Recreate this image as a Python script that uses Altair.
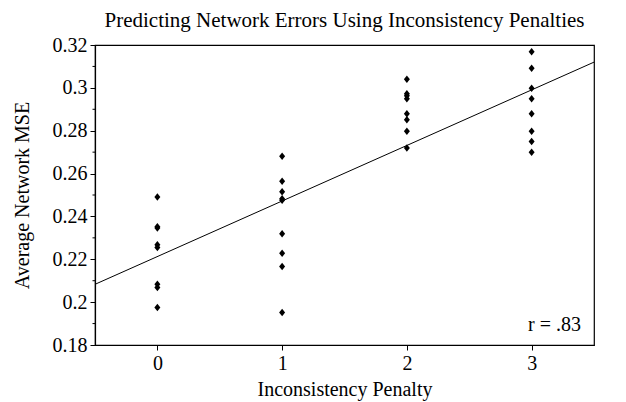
import altair as alt
import pandas as pd

penalty_levels = [0, 1, 2, 3]
mse_p0 = [0.2491, 0.2352, 0.2346, 0.2268, 0.2255, 0.2084, 0.2068, 0.1975]
mse_p1 = [0.2681, 0.2564, 0.2515, 0.2482, 0.2476, 0.2319, 0.2228, 0.2166, 0.1952]
mse_p2 = [0.3040, 0.2972, 0.2963, 0.2949, 0.2879, 0.2851, 0.2797, 0.2719]
mse_p3 = [0.3169, 0.3091, 0.2998, 0.2949, 0.2879, 0.2797, 0.2750, 0.2699]
y_major = [0.18, 0.20, 0.22, 0.24, 0.26, 0.28, 0.30, 0.32]
y_minor = [0.19, 0.21, 0.23, 0.25, 0.27, 0.29, 0.31]
r_label = "r = .83"

rows = []
for lvl, vals in zip(penalty_levels, [mse_p0, mse_p1, mse_p2, mse_p3]):
    for v in vals:
        rows.append({"penalty": lvl, "mse": v})
df = pd.DataFrame(rows)
minor_df = pd.DataFrame({"v": y_minor})

FONT = "Liberation Serif"
xscale = alt.Scale(domain=[-0.5, 3.5], nice=False, zero=False)
yscale = alt.Scale(domain=[0.18, 0.32], nice=False, zero=False)

base = alt.Chart(df)

points = base.mark_point(
    shape="M-0.8,0L0,-1L0.8,0L0,1Z", filled=True, color="black", opacity=1, size=56
).encode(
    x=alt.X("penalty:Q", scale=xscale,
            axis=alt.Axis(values=penalty_levels, title="Inconsistency Penalty", format="d")),
    y=alt.Y("mse:Q", scale=yscale,
            axis=alt.Axis(values=y_major, title="Average Network MSE", format="~g")),
)

line = base.transform_regression("penalty", "mse", extent=[-0.5, 3.5]).mark_line(
    color="black", strokeWidth=1
).encode(x=alt.X("penalty:Q", scale=xscale), y=alt.Y("mse:Q", scale=yscale))

minor = alt.Chart(minor_df).mark_rule(color="black", strokeWidth=1).encode(
    y=alt.Y("v:Q", scale=yscale),
    x=alt.value(-2.5),
    x2=alt.value(0),
)

rtext = alt.Chart(pd.DataFrame({"t": [r_label]})).mark_text(
    font=FONT, fontSize=20, color="black", align="right", baseline="middle"
).encode(text="t:N", x=alt.value(486), y=alt.value(280))

chart = alt.layer(minor, line, points, rtext).properties(
    width=499,
    height=300,
    background="white",
    padding={"left": 87, "top": 37, "right": 24, "bottom": 57},
    autosize=alt.AutoSizeParams(type="none"),
    title=alt.TitleParams(
        "Predicting Network Errors Using Inconsistency Penalties",
        font=FONT, fontSize=21, fontWeight="normal", color="black",
        anchor="middle", offset=4,
    ),
).configure_view(stroke="black", strokeWidth=1.2).configure_axis(
    labelFont=FONT, titleFont=FONT, labelFontSize=20, titleFontSize=20,
    titleFontWeight="normal", labelColor="black", titleColor="black",
    domainColor="black", tickColor="black", grid=False, tickSize=5,
    domainWidth=1.2,
).configure_axisY(labelPadding=3, titlePadding=20).configure_axisX(
    labelPadding=3, titlePadding=6
)

chart.save("out.html", embed_options={"renderer": "svg", "actions": False})
